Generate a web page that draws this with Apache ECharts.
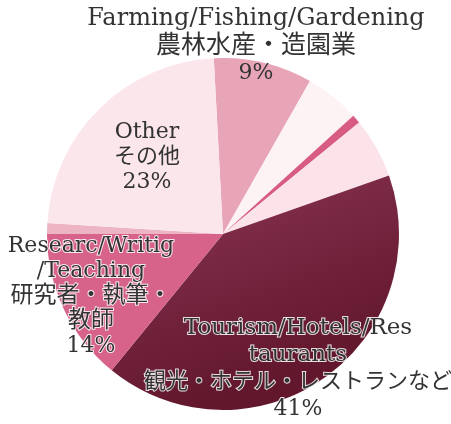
<!DOCTYPE html>
<html>
<head>
<meta charset="utf-8">
<script src="https://cdn.jsdelivr.net/npm/echarts@6/dist/echarts.min.js"></script>
<style>
html,body{margin:0;padding:0;background:#ffffff;}
#chart{width:451px;height:424px;}
</style>
</head>
<body>
<div id="chart"></div>
<script>
// ---- data ----
const sliceNames = ['Farming/Fishing/Gardening', 'Unlabeled A', 'Unlabeled B', 'Unlabeled C',
  'Tourism/Hotels/Restaurants', 'Research/Writing/Teaching', 'Unlabeled D', 'Other'];
const sliceValues = [9, 5, 0.8, 5.5, 41, 14, 1, 23];
const labelEn = ['Farming/Fishing/Gardening', '', '', '', 'Tourism/Hotels/Res\ntaurants',
  'Researc/Writig\n/Teaching', '', 'Other'];
const labelJa = ['農林水産・造園業', '', '', '', '観光・ホテル・レストランなど',
  '研究者・執筆・\n教師', '', 'その他'];
const labelPct = ['9%', '', '', '', '41%', '14%', '', '23%'];

// ---- styles ----
const sliceColors = [
  '#e9a5b8',
  '#fdf2f4',
  '#d85c82',
  '#fbe3e9',
  {type:'linear', x:0, y:0, x2:0.3, y2:1, colorStops:[{offset:0,color:'#8c3656'},{offset:1,color:'#62172c'}]},
  '#d7628a',
  '#edb5c4',
  '#fbe6eb'
];
const labelAnchors = {0:[256,46], 4:[298,369], 5:[91,296], 7:[147,157]};
const labelFont = {0:[24,25,22,27], 4:[23,22,22,27], 5:[22,23,22,25], 7:[22,22,22,25]}; // en, ja, pct, lineHeight
const haloIdx = {4:true, 5:true};
const FONT = '"DejaVu Serif", "Noto Sans CJK JP", serif';

const data = sliceValues.map(function(v, i){
  const hasLabel = labelEn[i] !== '';
  const f = labelFont[i] || [22,22,22,25];
  const halo = haloIdx[i] ? {textBorderColor:'rgba(255,255,255,0.85)', textBorderWidth:2} : {};
  function st(size){ return Object.assign({fontSize:size, lineHeight:f[3], fontFamily:FONT, color:'#333333', align:'center'}, halo); }
  return {
    name: sliceNames[i],
    value: v,
    itemStyle: {color: sliceColors[i]},
    label: {
      show: hasLabel,
      formatter: hasLabel ? ('{en|' + labelEn[i] + '}\n{ja|' + labelJa[i] + '}\n{pct|' + labelPct[i] + '}') : '',
      rich: {en: st(f[0]), ja: st(f[1]), pct: st(f[2])}
    }
  };
});

const chart = echarts.init(document.getElementById('chart'), null, {renderer:'canvas'});
chart.setOption({
  animation: false,
  backgroundColor: '#ffffff',
  series: [{
    type: 'pie',
    silent: true,
    center: [223, 234],
    radius: 176,
    startAngle: 93,
    clockwise: true,
    avoidLabelOverlap: false,
    itemStyle: {borderWidth: 0},
    label: {
      position: 'inside',
      color: '#333333',
      fontFamily: FONT,
      fontSize: 22,
      align: 'center'
    },
    labelLine: {show: false},
    labelLayout: function(p){
      const a = labelAnchors[p.dataIndex];
      if (!a) return {};
      return {x: a[0], y: a[1], align: 'center', verticalAlign: 'middle'};
    },
    data: data
  }]
});
</script>
</body>
</html>
